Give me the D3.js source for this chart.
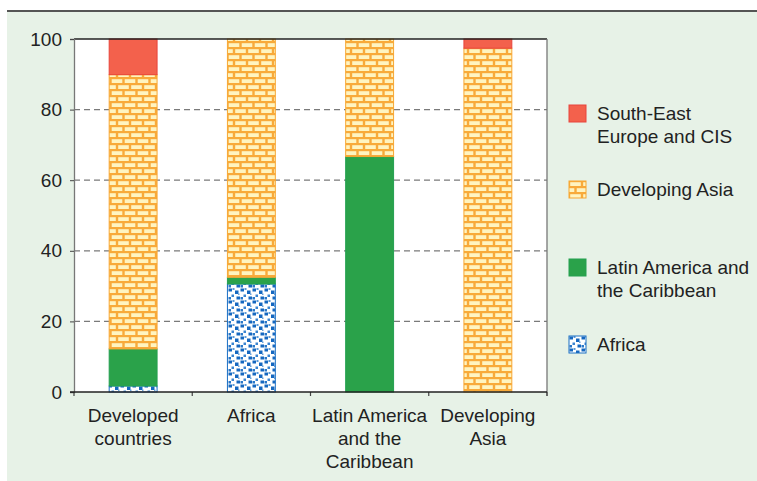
<!DOCTYPE html>
<html><head><meta charset="utf-8">
<script src="https://cdn.jsdelivr.net/npm/d3@7"></script>
<style>
html,body{margin:0;padding:0;background:#fff;}
svg{display:block;font-family:"Liberation Sans",Arial,sans-serif;}
</style></head>
<body>
<svg id="chart" width="757" height="481"></svg>
<script>
// ---- data ----
const categories = ["Developed countries", "Africa", "Latin America and the Caribbean", "Developing Asia"];
const categoryLabels = [["Developed", "countries"], ["Africa"], ["Latin America", "and the", "Caribbean"], ["Developing", "Asia"]];
const seriesNames = ["Africa", "Latin America and the Caribbean", "Developing Asia", "South-East Europe and CIS"];
const africa = [1.7, 30.6, 0, 0];
const latinAmerica = [10.5, 1.9, 66.7, 0];
const developingAsia = [77.7, 67.5, 33.3, 97.4];
const seeCis = [10.1, 0, 0, 2.6];
const yTicks = [0, 20, 40, 60, 80, 100];
const legendItems = [
  {key: "South-East Europe and CIS", lines: ["South-East", "Europe and CIS"]},
  {key: "Developing Asia", lines: ["Developing Asia"]},
  {key: "Latin America and the Caribbean", lines: ["Latin America and", "the Caribbean"]},
  {key: "Africa", lines: ["Africa"]}
];

(function() {
const seriesValues = [africa, latinAmerica, developingAsia, seeCis];
const rows = categories.map((c, i) => {
  const r = {cat: c};
  seriesNames.forEach((s, j) => r[s] = seriesValues[j][i]);
  return r;
});

const svg = d3.select("#chart");
const defs = svg.append("defs");

// brick pattern
const brick = defs.append("pattern").attr("id", "brick").attr("patternUnits", "userSpaceOnUse")
  .attr("width", 13).attr("height", 12);
brick.append("rect").attr("width", 13).attr("height", 12).attr("fill", "#f8aa3a");
brick.append("rect").attr("x", 1.2).attr("y", 1.2).attr("width", 10.6).attr("height", 3.8).attr("fill", "#fff4c0");
brick.append("rect").attr("x", -5.3).attr("y", 7.2).attr("width", 10.6).attr("height", 3.8).attr("fill", "#fff4c0");
brick.append("rect").attr("x", 7.7).attr("y", 7.2).attr("width", 10.6).attr("height", 3.8).attr("fill", "#fff4c0");

// dotted pattern
const dots = defs.append("pattern").attr("id", "dots").attr("patternUnits", "userSpaceOnUse")
  .attr("width", 12).attr("height", 12);
dots.append("rect").attr("width", 12).attr("height", 12).attr("fill", "#ffffff");
[[0.5,0.5,3.5,3,"#1668c0"],[7,2.5,3.5,3.5,"#1668c0"],[3.5,6.5,2.5,2.5,"#3a84d0"],[8.5,8.5,3.5,3,"#1668c0"],[0.5,9,2.5,2.5,"#2a78c8"],[4.5,0,2,2,"#5a9ad8"],[10,5.5,1.5,1.5,"#6aa4dc"]]
  .forEach(d => dots.append("rect").attr("x", d[0]).attr("y", d[1]).attr("width", d[2]).attr("height", d[3]).attr("fill", d[4]));

const fills = {
  "Africa": {fill: "url(#dots)", stroke: "#1a6fc4"},
  "Latin America and the Caribbean": {fill: "#2aa24a", stroke: "#24a050"},
  "Developing Asia": {fill: "url(#brick)", stroke: "#f7a733"},
  "South-East Europe and CIS": {fill: "#f3614c", stroke: "#e8453c"}
};

// background
svg.append("rect").attr("x", 7).attr("y", 11).attr("width", 750).attr("height", 470).attr("fill", "#e7f2e7");
svg.append("line").attr("x1", 7).attr("x2", 757).attr("y1", 11).attr("y2", 11).attr("stroke", "#555").attr("stroke-width", 2);

const pL = 74, pR = 547, pT = 39, pB = 392;
svg.append("rect").attr("x", pL).attr("y", pT).attr("width", pR - pL).attr("height", pB - pT).attr("fill", "#fff");

const x = d3.scaleBand().domain(categories).range([pL, pR]).padding(0);
const y = d3.scaleLinear().domain([0, 100]).range([pB, pT]);

// gridlines
svg.append("g").selectAll("line").data(yTicks.filter(t => t > 0 && t < 100)).join("line")
  .attr("x1", pL).attr("x2", pR).attr("y1", d => y(d)).attr("y2", d => y(d))
  .attr("stroke", "#7a7a7a").attr("stroke-width", 1.3).attr("stroke-dasharray", "6,4");

// bars
const stack = d3.stack().keys(seriesNames)(rows);
const barW = x.bandwidth() * 0.405;
svg.append("g").selectAll("g").data(stack).join("g")
  .each(function(s) {
    d3.select(this).selectAll("rect").data(s.filter(d => d[1] - d[0] > 0)).join("rect")
      .attr("x", d => x(d.data.cat) + (x.bandwidth() - barW) / 2)
      .attr("y", d => y(d[1]))
      .attr("width", barW)
      .attr("height", d => y(d[0]) - y(d[1]))
      .attr("fill", fills[s.key].fill)
      .attr("stroke", fills[s.key].stroke)
      .attr("stroke-width", 1);
  });

// frame lines
svg.append("line").attr("x1", pL).attr("x2", pR).attr("y1", pT).attr("y2", pT).attr("stroke", "#222").attr("stroke-width", 1.5);
svg.append("line").attr("x1", pR).attr("x2", pR).attr("y1", pT).attr("y2", pB + 4).attr("stroke", "#777").attr("stroke-width", 1.3);

// y axis
const yAxis = svg.append("g").attr("transform", `translate(${pL},0)`)
  .call(d3.axisLeft(y).tickValues(yTicks).tickSize(4).tickPadding(8));
yAxis.select(".domain").attr("stroke", "#777").attr("stroke-width", 1.3);
yAxis.selectAll(".tick line").attr("stroke", "#444");
yAxis.selectAll(".tick text").attr("font-size", 19).attr("fill", "#222").attr("font-family", "Liberation Sans, Arial, sans-serif");

// x axis: boundary ticks
const boundaries = categories.map(c => x(c)).concat([pR]);
svg.append("g").selectAll("line").data(boundaries).join("line")
  .attr("x1", d => d).attr("x2", d => d).attr("y1", pB).attr("y2", pB + 4)
  .attr("stroke", "#444").attr("stroke-width", 1.2);
svg.append("line").attr("x1", pL - 4).attr("x2", pR).attr("y1", pB).attr("y2", pB).attr("stroke", "#222").attr("stroke-width", 1.5);

// x labels
const xl = svg.append("g").selectAll("text").data(categories).join("text")
  .attr("x", d => x(d) + x.bandwidth() / 2)
  .attr("y", 422)
  .attr("text-anchor", "middle").attr("font-size", 19).attr("fill", "#222");
xl.each(function(d, i) {
  d3.select(this).selectAll("tspan").data(categoryLabels[i]).join("tspan")
    .attr("x", x(d) + x.bandwidth() / 2).attr("dy", (t, k) => k === 0 ? 0 : 23).text(t => t);
});

// legend
const legendY = [105, 181, 259, 336];
const lg = svg.append("g").selectAll("g").data(legendItems).join("g")
  .attr("transform", (d, i) => `translate(569,${legendY[i]})`);
lg.append("rect").attr("width", 17).attr("height", 17)
  .attr("fill", d => fills[d.key].fill).attr("stroke", d => fills[d.key].stroke).attr("stroke-width", 1);
lg.append("text").attr("x", 28).attr("y", 15).attr("font-size", 19).attr("fill", "#222")
  .each(function(d) {
    d3.select(this).selectAll("tspan").data(d.lines).join("tspan")
      .attr("x", 28).attr("dy", (t, k) => k === 0 ? 0 : 23).text(t => t);
  });
})();
</script>
</body></html>
